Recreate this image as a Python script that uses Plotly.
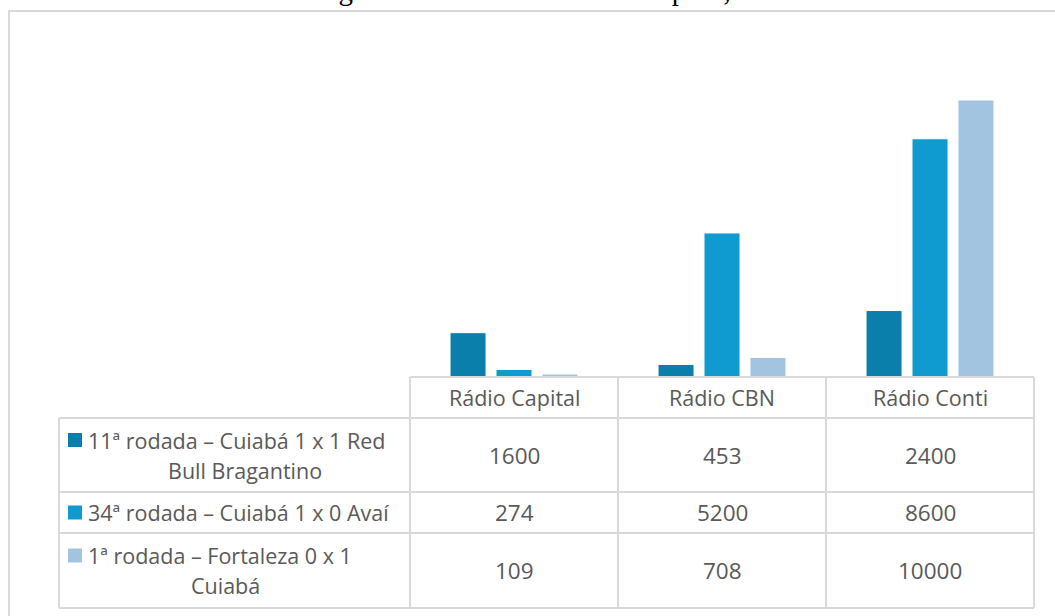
import plotly.graph_objects as go

# ---- data ----
categories = ["Rádio Capital", "Rádio CBN", "Rádio Conti"]
series_line1 = [
    "11ª rodada – Cuiabá 1 x 1 Red",
    "34ª rodada – Cuiabá 1 x 0 Avaí",
    "1ª rodada – Fortaleza 0 x 1",
]
series_line2 = ["Bull Bragantino", "", "Cuiabá"]
values_11a = [1600, 453, 2400]
values_34a = [274, 5200, 8600]
values_1a = [109, 708, 10000]
series_values = [values_11a, values_34a, values_1a]
colors = ["#0B7FAB", "#0F9AD0", "#A3C4E1"]
title_text = "Gráfico 4: Jogos escolhidos das rádios Capital, CBN e Conti"

W, H = 1055, 616
def px(x):
    return x / W
def py(y):
    return 1 - y / H

FONT = "Open Sans"
FS = 21.5
TXT = "#595959"
GRID = "#D9D9D9"

fig = go.Figure()
for l1, l2, vals, col in zip(series_line1, series_line2, series_values, colors):
    fig.add_trace(go.Bar(
        x=categories, y=vals, name=(l1 + " " + l2).strip(),
        marker=dict(color=col, line=dict(color="#FFFFFF", width=1)),
        showlegend=False, hoverinfo="x+y",
    ))

# table geometry (pixels)
x_left, x_lab, x_right = 59, 410, 1034
y_head, y_r1, y_r2, y_r3, y_bot = 377, 418, 492, 533, 608
col_edges = [410, 618, 826, 1034]
row_edges = [y_r1, y_r2, y_r3, y_bot]

shapes = []
line = dict(color=GRID, width=2)
# outer border
shapes.append(dict(type="rect", xref="paper", yref="paper",
                   x0=px(9), x1=px(1070), y0=py(640), y1=py(11), line=line))
# horizontal lines
shapes.append(dict(type="line", xref="paper", yref="paper",
                   x0=px(x_lab), x1=px(x_right), y0=py(y_head), y1=py(y_head), line=line))
for ry in row_edges:
    shapes.append(dict(type="line", xref="paper", yref="paper",
                       x0=px(x_left), x1=px(x_right), y0=py(ry), y1=py(ry), line=line))
# vertical lines
shapes.append(dict(type="line", xref="paper", yref="paper",
                   x0=px(x_left), x1=px(x_left), y0=py(y_r1), y1=py(y_bot), line=line))
for cx in col_edges:
    shapes.append(dict(type="line", xref="paper", yref="paper",
                       x0=px(cx), x1=px(cx), y0=py(y_head), y1=py(y_bot), line=line))

def txt(text, x, y, xref="paper", xanchor="center", size=FS):
    return dict(text=text, xref=xref, yref="paper", x=x, y=y,
                xanchor=xanchor, yanchor="middle", showarrow=False,
                font=dict(family=FONT, size=size, color=TXT))

annotations = []
# title (cut off at top)
annotations.append(dict(text=title_text, xref="paper", yref="paper",
                        x=px(538), y=py(-10), xanchor="center", yanchor="middle",
                        showarrow=False,
                        font=dict(family="Liberation Serif", size=29, color="#000000")))
# header
for c in categories:
    annotations.append(txt(c, c, py((y_head + y_r1) / 2), xref="x"))
# rows
line2_centers = [245, 234, 225]
for i, (l1, l2, vals, col) in enumerate(zip(series_line1, series_line2, series_values, colors)):
    top, bot = row_edges[i], row_edges[i + 1]
    yc = (top + bot) / 2
    y1 = yc - 15 if l2 else yc
    # legend square
    shapes.append(dict(type="rect", xref="paper", yref="paper",
                       x0=px(68), x1=px(82), y0=py(y1 + 7), y1=py(y1 - 7),
                       fillcolor=col, line=dict(width=0)))
    annotations.append(txt(l1, px(86), py(y1), xanchor="left"))
    if l2:
        annotations.append(txt(l2, px(line2_centers[i]), py(yc + 15)))
    for c, v in zip(categories, vals):
        annotations.append(txt(str(v), c, py(yc), xref="x", size=FS + 1))

fig.update_layout(
    width=W, height=H,
    margin=dict(l=0, r=0, t=0, b=0),
    paper_bgcolor="#FFFFFF", plot_bgcolor="rgba(0,0,0,0)",
    barmode="group", bargap=0.337, bargroupgap=0.217,
    xaxis=dict(domain=[px(410), px(1034)], showticklabels=False, showgrid=False,
               zeroline=False, showline=False, ticks=""),
    yaxis=dict(domain=[py(377), py(44.6)], range=[0, 12000], showticklabels=False,
               showgrid=False, zeroline=False, showline=False),
    shapes=shapes, annotations=annotations,
)

fig.write_html("out.html", config={"displayModeBar": False},
               post_script="document.body.style.margin='0';document.body.style.overflow='hidden';")
